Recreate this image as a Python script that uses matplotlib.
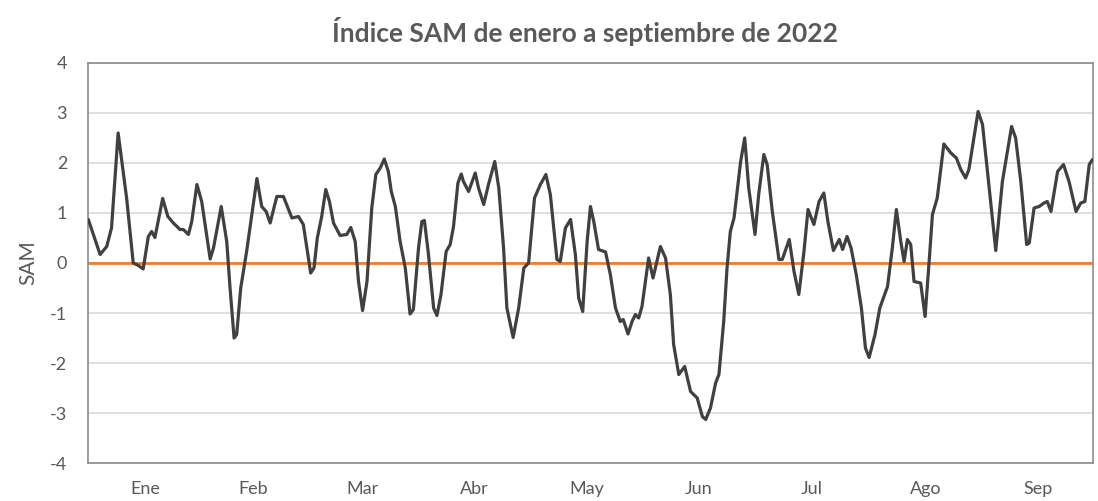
import matplotlib
matplotlib.use("Agg")
import matplotlib.pyplot as plt
import pandas as pd

# Day offsets from 1 Jan 2022 and SAM values
dia = [0.1, 3.3, 5.1, 6.4, 8.2, 10.5, 12.3, 13.7, 15.0, 16.4, 17.3, 18.2, 20.3, 21.7,
       23.2, 25.0, 25.9, 27.3, 28.2, 29.6, 30.9, 33.2, 34.1, 36.2, 37.7, 38.6, 39.7,
       40.4, 41.5, 43.1, 45.9, 47.2, 48.4, 49.5, 51.3, 53.1, 55.4, 57.2, 58.5, 60.5,
       61.4, 62.3, 63.5, 64.6, 65.6, 66.7, 68.5, 70.3, 71.4, 72.6, 73.5, 74.6, 75.8,
       77.1, 78.2, 79.4, 80.5, 81.6, 82.4, 83.5, 84.8, 86.2, 87.5, 88.4, 89.8, 90.7,
       91.4, 92.5, 93.9, 94.8, 95.9, 97.3, 98.4, 99.3, 100.5, 101.4, 102.0, 103.4,
       105.2, 106.1, 107.5, 108.8, 110.5, 111.6, 112.9, 113.8, 115.5, 117.0, 118.4,
       119.7, 121.3, 122.9, 124.4, 125.6, 127.4, 128.3, 129.7, 131.1, 132.4, 133.3,
       134.4, 135.6, 136.5, 137.4, 138.7, 140.6, 141.9, 143.3, 144.6, 145.4, 146.7,
       147.8, 148.7, 149.6, 150.5, 152.3, 153.5, 155.5, 156.9, 158.2, 159.1, 160.5,
       162.1, 163.7, 165.5, 166.9, 167.8, 169.1, 170.5, 171.4, 172.7, 173.6, 174.5,
       175.5, 177.3, 178.4, 179.5, 181.2, 182.2, 183.6, 184.5, 185.9, 187.7, 188.6,
       190.5, 191.8, 193.1, 194.5, 195.6, 197.2, 198.6, 199.9, 201.0, 202.5, 204.1,
       205.0, 206.2, 207.3, 208.7, 210.1, 211.2, 212.2, 213.8, 215.1, 217.2, 218.5,
       219.6, 220.8, 221.7, 222.6, 223.5, 224.4, 226.2, 227.4, 228.5, 229.4, 230.7,
       232.5, 234.4, 235.9, 237.1, 238.4, 239.3, 241.8, 243.0, 244.8, 246.6, 248.4,
       250.9, 252.0, 253.4, 255.0, 255.7, 257.0, 258.4, 259.7, 260.6, 261.6, 263.4,
       265.0, 266.5, 268.4, 269.7, 270.8, 272.0, 272.9]
sam = [0.87, 0.17, 0.33, 0.70, 2.60, 1.30, 0.00, -0.05, -0.12, 0.53, 0.63, 0.51, 1.29, 0.93,
       0.80, 0.67, 0.67, 0.57, 0.83, 1.57, 1.23, 0.08, 0.30, 1.13, 0.43, -0.50, -1.50,
       -1.43, -0.50, 0.23, 1.69, 1.13, 1.03, 0.80, 1.33, 1.33, 0.90, 0.93, 0.77, -0.20,
       -0.10, 0.50, 0.93, 1.47, 1.23, 0.80, 0.55, 0.57, 0.71, 0.43, -0.37, -0.95, -0.37,
       1.10, 1.77, 1.90, 2.08, 1.83, 1.43, 1.13, 0.43, -0.10, -1.02, -0.93, 0.30, 0.83,
       0.85, 0.17, -0.90, -1.05, -0.63, 0.23, 0.37, 0.73, 1.60, 1.78, 1.63, 1.43,
       1.80, 1.50, 1.17, 1.57, 2.03, 1.50, 0.30, -0.90, -1.49, -0.90, -0.10,
       0.00, 1.30, 1.57, 1.77, 1.37, 0.07, 0.03, 0.70, 0.87, 0.17, -0.70,
       -0.97, 0.43, 1.13, 0.83, 0.27, 0.22, -0.23, -0.90, -1.17, -1.13, -1.42,
       -1.17, -1.03, -1.10, -0.87, 0.10, -0.30, 0.33, 0.10, -0.63, -1.63, -2.23,
       -2.07, -2.57, -2.70, -3.07, -3.13, -2.90, -2.40, -2.23, -1.17, -0.10, 0.63,
       0.90, 2.03, 2.50, 1.50, 0.57, 1.37, 2.17, 1.97, 1.03, 0.07, 0.07,
       0.47, -0.17, -0.63, 0.23, 1.07, 0.77, 1.23, 1.40, 0.83, 0.25, 0.47,
       0.27, 0.53, 0.30, -0.23, -0.90, -1.70, -1.89, -1.43, -0.90, -0.47, 0.30,
       1.07, 0.43, 0.03, 0.47, 0.37, -0.37, -0.40, -1.07, 0.03, 0.97, 1.30,
       2.38, 2.20, 2.10, 1.87, 1.70, 1.87, 3.03, 2.77, 1.50, 0.25, 1.63,
       2.73, 2.50, 1.63, 0.37, 0.40, 1.10, 1.13, 1.20, 1.23, 1.03, 1.83,
       1.97, 1.63, 1.03, 1.20, 1.23, 1.97, 2.07]

meses = ["Ene", "Feb", "Mar", "Abr", "May", "Jun", "Jul", "Ago", "Sep"]
titulo = "Índice SAM de enero a septiembre de 2022"

plt.rcParams['font.family'] = ['Lato', 'DejaVu Sans']
plt.rcParams['axes.unicode_minus'] = False

fig = plt.figure(figsize=(10.98, 5.01), dpi=100)
ax = fig.add_axes([0.0801, 0.0758, 0.9153, 0.7985])

# month centres
starts = pd.date_range("2022-01-01", periods=10, freq="MS")
base = pd.Timestamp("2022-01-01")
offs = [(s - base).days for s in starts]
mids = [(offs[i] + offs[i + 1]) / 2 for i in range(9)]

for y in range(-4, 5):
    ax.axhline(y, color="#d9d9d9", lw=1.2, zorder=1)
ax.axhline(0, color="#ED7D31", lw=2.0, zorder=2)
ax.plot(dia, sam, color="#404040", lw=2.3, zorder=3, solid_joinstyle="round",
        solid_capstyle="round")

ax.set_xlim(0, 273)
ax.set_ylim(-4, 4)
ax.set_yticks(range(-4, 5))
ax.set_xticks(mids)
ax.set_xticklabels(meses)
ax.tick_params(axis="both", length=0, labelsize=13, colors="#595959", labelcolor="#595959")
ax.tick_params(axis="x", pad=13)
ax.tick_params(axis="y", pad=15)
for s in ax.spines.values():
    s.set_color("#8c8c8c")
    s.set_linewidth(1.2)
ax.set_ylabel("SAM", fontsize=15, color="#595959", labelpad=8)

fig.text(0.533, 0.938, titulo, ha="center", va="center", fontsize=19,
         fontweight="bold", color="#595959")

fig.savefig("out.png", dpi=100)
